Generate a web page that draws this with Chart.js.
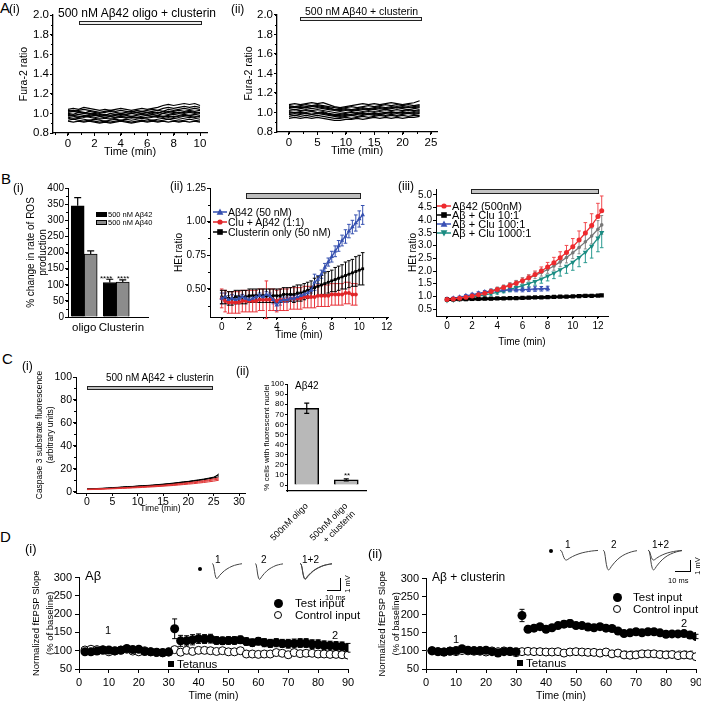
<!DOCTYPE html>
<html><head><meta charset="utf-8">
<script src="https://cdn.jsdelivr.net/npm/chart.js@4.4.1/dist/chart.umd.min.js"></script>
<style>
html,body{margin:0;padding:0;background:#fff;}
body{width:701px;height:702px;overflow:hidden;position:relative;font-family:"Liberation Sans",Arial,sans-serif;color:#000}
.t{position:absolute;white-space:nowrap;}
canvas{position:absolute}
.bx{position:absolute;box-sizing:border-box}
</style></head><body>
<script>
// ================= DATA =================
// A(i) Fura-2 traces (500 nM Aβ42 oligo + clusterin)
const aiTime = [0,0.4,0.8,1.2,1.6,2,2.4,2.8,3.2,3.6,4,4.4,4.8,5.2,5.6,6,6.4,6.8,7.2,7.6,8,8.4,8.8,9.2,9.6,10];
const aiTrace1 = [1.04,1.05,1.04,1.06,1.05,1.04,1.03,1.04,1.03,1.04,1.05,1.04,1.03,1.04,1.05,1.04,1.05,1.06,1.08,1.09,1.08,1.09,1.10,1.09,1.10,1.08];
const aiTrace2 = [1.03,1.02,1.03,1.04,1.03,1.02,1.01,1.02,1.03,1.02,1.03,1.02,1.01,1.03,1.02,1.03,1.04,1.03,1.05,1.06,1.05,1.06,1.07,1.06,1.07,1.06];
const aiTrace3 = [1.01,1.02,1.01,1.00,1.02,1.01,1.00,1.01,1.02,1.01,1.00,1.01,1.02,1.01,1.02,1.01,1.02,1.03,1.02,1.04,1.03,1.04,1.05,1.04,1.05,1.04];
const aiTrace4 = [1.00,0.99,1.01,1.00,0.99,1.00,0.99,0.98,1.00,0.99,1.00,0.99,1.00,1.01,1.00,0.99,1.01,1.00,1.02,1.01,1.02,1.03,1.02,1.03,1.02,1.03];
const aiTrace5 = [0.99,0.98,0.99,0.98,0.97,0.98,0.97,0.98,0.97,0.98,0.99,0.98,0.97,0.98,0.99,0.98,0.99,0.98,1.00,0.99,1.00,1.01,1.00,1.01,1.00,1.01];
const aiTrace6 = [0.97,0.98,0.97,0.96,0.97,0.96,0.95,0.96,0.97,0.96,0.97,0.96,0.97,0.96,0.97,0.98,0.97,0.98,0.97,0.98,0.99,0.98,0.99,0.98,0.99,0.98];
const aiTrace7 = [0.96,0.95,0.96,0.97,0.96,0.95,0.94,0.95,0.94,0.95,0.96,0.95,0.96,0.95,0.96,0.95,0.96,0.97,0.96,0.97,0.96,0.97,0.98,0.97,0.96,0.97];
const aiTrace8 = [0.95,0.94,0.95,0.94,0.93,0.94,0.93,0.92,0.93,0.94,0.93,0.94,0.93,0.94,0.95,0.94,0.93,0.94,0.95,0.94,0.95,0.94,0.95,0.96,0.95,0.94];
const aiTrace9 = [0.93,0.94,0.93,0.92,0.93,0.92,0.91,0.92,0.91,0.92,0.93,0.92,0.91,0.92,0.93,0.92,0.93,0.92,0.93,0.94,0.93,0.92,0.93,0.94,0.93,0.92];
const aiTrace10 = [0.92,0.91,0.92,0.91,0.92,0.91,0.90,0.91,0.90,0.91,0.92,0.91,0.90,0.91,0.92,0.91,0.92,0.91,0.92,0.91,0.92,0.91,0.92,0.91,0.92,0.91];
const aiTrace11 = [1.02,1.03,1.02,1.01,1.00,0.99,0.98,0.99,0.98,0.99,0.98,0.99,1.00,0.99,1.00,1.01,1.00,1.01,1.00,1.02,1.01,1.00,1.01,1.02,1.01,1.00];
const aiTrace12 = [0.98,0.97,0.96,0.97,0.98,0.99,0.97,0.96,0.95,0.96,0.97,0.96,0.95,0.96,0.95,0.96,0.97,0.96,0.97,0.96,0.97,0.96,0.97,0.98,0.97,0.96];
const aiXTicks = [0,2,4,6,8,10];
const aYTicks = [0.8,1.0,1.2,1.4,1.6,1.8,2.0];

// A(ii) Fura-2 traces (500 nM Aβ40 + clusterin)
const aiiTime = [0,1,2,3,4,5,6,7,8,9,10,11,12,13,14,15,16,17,18,19,20,21,22,23];
const aiiTrace1 = [1.08,1.09,1.08,1.09,1.10,1.09,1.10,1.08,1.06,1.05,1.06,1.07,1.08,1.09,1.08,1.09,1.08,1.09,1.10,1.09,1.08,1.09,1.10,1.12];
const aiiTrace2 = [1.07,1.06,1.07,1.08,1.07,1.08,1.07,1.06,1.05,1.04,1.05,1.06,1.05,1.06,1.07,1.06,1.07,1.08,1.07,1.08,1.07,1.08,1.07,1.08];
const aiiTrace3 = [1.05,1.06,1.05,1.06,1.07,1.06,1.05,1.04,1.03,1.03,1.04,1.03,1.04,1.05,1.04,1.05,1.06,1.05,1.06,1.05,1.06,1.05,1.06,1.07];
const aiiTrace4 = [1.04,1.03,1.04,1.05,1.04,1.05,1.04,1.03,1.02,1.01,1.02,1.03,1.02,1.03,1.04,1.03,1.04,1.03,1.04,1.05,1.04,1.03,1.04,1.05];
const aiiTrace5 = [1.02,1.03,1.02,1.03,1.02,1.03,1.02,1.01,1.00,0.99,1.00,1.01,1.00,1.01,1.02,1.01,1.02,1.03,1.02,1.03,1.02,1.03,1.02,1.03];
const aiiTrace6 = [1.01,1.00,1.01,1.02,1.01,1.00,1.01,0.99,0.98,0.98,0.99,1.00,0.99,1.00,1.01,1.00,1.01,1.00,1.01,1.00,1.01,1.02,1.01,1.02];
const aiiTrace7 = [0.99,1.00,0.99,1.00,1.01,1.00,0.99,0.98,0.97,0.96,0.97,0.98,0.99,0.98,0.99,0.98,0.99,1.00,0.99,1.00,0.99,1.00,0.99,1.00];
const aiiTrace8 = [0.98,0.97,0.98,0.99,0.98,0.99,0.98,0.97,0.96,0.95,0.96,0.97,0.96,0.97,0.98,0.97,0.98,0.97,0.98,0.97,0.98,0.99,0.98,0.99];
const aiiTrace9 = [0.96,0.97,0.96,0.97,0.96,0.97,0.96,0.95,0.94,0.94,0.95,0.94,0.95,0.96,0.95,0.96,0.97,0.96,0.97,0.96,0.97,0.96,0.97,0.97];
const aiiTrace10 = [0.94,0.95,0.94,0.95,0.94,0.95,0.94,0.93,0.92,0.92,0.93,0.93,0.94,0.93,0.94,0.95,0.94,0.95,0.94,0.95,0.94,0.95,0.95,0.96];
const aiiTrace11 = [1.06,1.05,1.06,1.05,1.06,1.07,1.06,1.05,1.03,1.02,1.03,1.02,1.03,1.04,1.03,1.04,1.05,1.04,1.05,1.06,1.05,1.06,1.05,1.06];
const aiiTrace12 = [1.00,0.99,1.00,0.99,0.98,0.99,1.00,0.98,0.97,0.97,0.98,0.97,0.98,0.99,0.98,0.99,0.98,0.99,1.00,0.99,1.00,0.99,1.00,1.01];
const aiiXTicks = [0,5,10,15,20,25];

// B(i) ROS production bars
const biCats = ['oligo','Clusterin'];
const biAb42 = [345,107];
const biAb42Err = [25,10];
const biAb40 = [195,108];
const biAb40Err = [10,7];
const biYTicks = [0,50,100,150,200,250,300,350,400];

// B(ii) HEt ratio, 50 nM
const biiTime = [0,0.25,0.5,0.75,1,1.25,1.5,1.75,2,2.25,2.5,2.75,3,3.25,3.5,3.75,4,4.25,4.5,4.75,5,5.25,5.5,5.75,6,6.25,6.5,6.75,7,7.25,7.5,7.75,8,8.25,8.5,8.75,9,9.25,9.5,9.75,10,10.25];
const biiAb42 = [0.43,0.44,0.42,0.43,0.42,0.43,0.44,0.43,0.42,0.43,0.44,0.45,0.44,0.46,0.45,0.42,0.38,0.41,0.42,0.42,0.43,0.43,0.44,0.45,0.46,0.47,0.49,0.55,0.57,0.61,0.66,0.70,0.74,0.78,0.82,0.86,0.89,0.93,0.96,0.99,1.02,1.05];
const biiAb42Err = [0.04,0.03,0.03,0.03,0.03,0.02,0.02,0.02,0.02,0.02,0.02,0.02,0.02,0.02,0.02,0.03,0.04,0.03,0.02,0.02,0.02,0.02,0.02,0.02,0.02,0.02,0.02,0.06,0.03,0.03,0.03,0.03,0.04,0.04,0.04,0.04,0.05,0.05,0.05,0.06,0.06,0.07];
const biiCluAb = [0.43,0.41,0.40,0.40,0.40,0.40,0.41,0.41,0.41,0.41,0.41,0.42,0.42,0.42,0.42,0.42,0.41,0.42,0.42,0.42,0.43,0.43,0.43,0.43,0.44,0.44,0.44,0.44,0.45,0.45,0.45,0.45,0.46,0.46,0.46,0.46,0.47,0.47,0.46,0.46,null,null];
const biiCluAbErr = [0.07,0.08,0.08,0.08,0.08,0.08,0.08,0.08,0.08,0.08,0.08,0.08,0.08,0.14,0.08,0.08,0.08,0.08,0.08,0.08,0.08,0.08,0.08,0.08,0.08,0.08,0.08,0.08,0.08,0.08,0.08,0.08,0.08,0.08,0.08,0.08,0.08,0.08,0.08,0.08,null,null];
const biiCluOnly = [0.44,0.44,0.43,0.43,0.44,0.44,0.44,0.44,0.45,0.45,0.45,0.45,0.45,0.45,0.45,0.45,0.45,0.45,0.46,0.46,0.46,0.46,0.47,0.47,0.48,0.49,0.50,0.51,0.52,0.53,0.54,0.55,0.56,0.57,0.58,0.59,0.60,0.61,0.62,0.63,0.64,0.65];
const biiCluOnlyErr = [0.05,0.05,0.05,0.05,0.05,0.05,0.05,0.05,0.05,0.05,0.05,0.05,0.05,0.05,0.05,0.05,0.05,0.05,0.05,0.05,0.05,0.06,0.06,0.06,0.06,0.06,0.06,0.07,0.07,0.07,0.08,0.08,0.08,0.09,0.09,0.09,0.10,0.10,0.10,0.11,0.11,0.12];
const biiXTicks = [0,2,4,6,8,10,12];
const biiYTicks = [0.5,0.75,1.0,1.25];

// B(iii) HEt ratio, 500 nM
const biiiTime = [0,0.5,1,1.5,2,2.5,3,3.5,4,4.5,5,5.5,6,6.5,7,7.5,8,8.5,9,9.5,10,10.5,11,11.5,12,12.3];
const biiiAb42 = [0.88,0.90,0.93,0.97,1.01,1.06,1.12,1.19,1.27,1.35,1.43,1.52,1.62,1.73,1.86,2.00,2.16,2.33,2.52,2.73,2.96,3.22,3.50,3.80,4.15,4.38];
const biiiAb42Err = [0.04,0.04,0.04,0.05,0.05,0.05,0.06,0.06,0.07,0.08,0.09,0.10,0.11,0.12,0.14,0.16,0.18,0.21,0.24,0.28,0.32,0.36,0.41,0.46,0.52,0.58];
const biiiClu10 = [0.88,0.88,0.89,0.89,0.90,0.90,0.91,0.91,0.92,0.92,0.93,0.93,0.94,0.95,0.96,0.96,0.97,0.98,0.99,0.99,1.00,1.01,1.02,1.02,1.03,1.04];
const biiiClu100 = [0.90,0.93,0.97,1.02,1.07,1.12,1.17,1.21,1.24,1.25,1.26,1.26,1.27,1.28,1.29,1.30,1.31];
const biiiClu100Err = [0.04,0.04,0.04,0.05,0.05,0.06,0.06,0.07,0.08,0.08,0.08,0.08,0.09,0.09,0.09,0.09,0.09];
const biiiClu1000 = [0.84,0.86,0.89,0.93,0.97,1.01,1.06,1.11,1.16,1.22,1.28,1.35,1.42,1.50,1.59,1.69,1.80,1.92,2.05,2.19,2.35,2.53,2.74,2.98,3.30,3.52];
const biiiClu1000Err = [0.03,0.03,0.03,0.04,0.04,0.05,0.05,0.06,0.07,0.08,0.09,0.10,0.11,0.13,0.15,0.17,0.19,0.22,0.25,0.28,0.32,0.36,0.41,0.47,0.54,0.60];
const biiiGrey = [0.88,0.91,0.95,0.99,1.04,1.10,1.16,1.23,1.30,1.37,1.45,1.53,1.62,1.72,1.83,1.94,2.06,2.20,2.36,2.53,2.72,2.93,3.15,3.38,3.65,3.82];
const biiiGreyErr = [0.03,0.03,0.03,0.04,0.04,0.05,0.05,0.06,0.07,0.08,0.09,0.10,0.11,0.12,0.13,0.14,0.15,0.17,0.19,0.21,0.23,0.25,0.28,0.31,0.34,0.37];
const biiiXTicks = [0,2,4,6,8,10,12];
const biiiYTicks = [0.5,1.0,1.5,2.0,2.5,3.0,3.5,4.0,4.5,5.0];

// C(i) caspase-3 substrate fluorescence
const ciTime = [0,1,2,3,4,5,6,7,8,9,10,11,12,13,14,15,16,17,18,19,20,21,22,23,24,25,26];
const ciBlack1 = [2.5,2.6,2.8,3.0,3.3,3.6,3.8,4.2,4.5,4.6,5.0,5.3,5.5,5.8,6.2,6.6,7.0,7.5,8.0,8.6,9.0,9.7,10.3,11.0,11.8,12.7,14.5];
const ciBlack2 = [2.0,2.2,2.4,2.6,2.9,3.1,3.4,3.7,4.0,4.3,4.6,4.9,5.1,5.4,5.8,6.2,6.6,7.0,7.5,8.0,8.6,9.2,9.8,10.5,11.2,12.0,13.0];
const ciBlack3 = [2.2,2.3,2.5,2.8,3.0,3.2,3.5,3.9,4.1,4.4,4.8,5.0,5.3,5.6,6.0,6.3,6.8,7.2,7.8,8.3,8.8,9.4,10.0,10.6,11.5,12.3,15.5];
const ciRed1 = [2.0,2.1,2.2,2.4,2.6,2.8,3.0,3.2,3.4,3.6,3.9,4.1,4.4,4.6,4.9,5.2,5.6,6.0,6.4,6.8,7.3,7.8,8.3,8.9,9.6,10.3,11.0];
const ciRed2 = [1.8,1.9,2.0,2.2,2.4,2.5,2.7,2.9,3.1,3.3,3.5,3.7,4.0,4.2,4.5,4.8,5.1,5.4,5.8,6.2,6.6,7.0,7.5,8.0,8.6,9.2,10.0];
const ciRed3 = [2.2,2.3,2.5,2.6,2.8,3.0,3.2,3.5,3.7,4.0,4.2,4.5,4.8,5.1,5.4,5.7,6.1,6.5,7.0,7.4,7.9,8.4,9.0,9.6,10.3,11.2,12.0];
const ciXTicks = [0,5,10,15,20,25,30];
const ciYTicks = [0,20,40,60,80,100];

// C(ii) % cells with fluorescent nuclei
const ciiCats = ['500nM oligo', ['500nM oligo','+ clusterin']];
const ciiVals = [76,5];
const ciiErr = [5,1];
const ciiYTicks = [0,10,20,30,40,50,60,70,80,90,100];

// D fEPSP slope
const dTime = [2,4,6,8,10,12,14,16,18,20,22,24,26,28,30,32,34,36,38,40,42,44,46,48,50,52,54,56,58,60,62,64,66,68,70,72,74,76,78,80,82,84,86,88,90];
const diTest = [97,97,99,101,102,100,101,106,103,104,98,97,96,95,97,160,127,127,130,133,132,133,128,127,128,128,130,125,122,126,122,120,122,120,119,120,121,121,118,118,115,114,113,112,108];
const diTestErr = [3,3,3,3,3,3,3,3,3,3,3,3,3,3,3,27,15,14,14,13,12,12,10,10,10,10,10,10,10,10,11,11,11,11,12,12,12,12,12,12,12,12,12,12,12];
const diCtrl = [102,104,103,103,97,99,102,104,99,97,100,97,95,94,96,103,96,101,98,101,101,100,98,100,97,97,100,91,91,90,91,91,95,93,89,95,92,93,93,91,91,90,90,89,88];
const diiTest = [100,98,97,99,101,106,102,101,101,102,98,94,98,99,98,198,160,163,167,160,164,170,174,176,170,170,166,164,167,163,162,155,148,150,153,150,153,153,150,146,147,147,148,144,140];
const diiTestErr = [3,3,3,3,3,4,3,3,3,3,3,3,3,3,3,17,6,6,6,6,7,8,9,10,8,7,7,8,8,7,7,7,7,7,8,7,6,6,6,6,6,6,6,6,6];
const diiCtrl = [101,98,97,100,98,101,100,99,99,97,100,98,100,98,95,98,99,98,98,97,97,98,94,97,98,97,96,96,94,97,92,94,89,88,89,92,92,92,90,89,90,87,89,88,84];
const dXTicks = [0,10,20,30,40,50,60,70,80,90];
const dYTicks = [50,100,150,200,250,300];
const dBaseline = 100;

// D inset fEPSP waveforms (mV vs ms)
const wTime = [0,1,2,3,4,5,6,8,10,12,14,16,18,20,22,24];
const diWave1 = [0,-0.1,-0.6,-1.05,-1.15,-1.05,-0.92,-0.72,-0.55,-0.42,-0.31,-0.22,-0.15,-0.10,-0.06,-0.03];
const diWave2 = [0,-0.1,-0.65,-1.1,-1.2,-1.1,-0.97,-0.76,-0.58,-0.44,-0.33,-0.24,-0.16,-0.11,-0.07,-0.04];
const diiWave1 = [0,-0.08,-0.45,-0.75,-0.82,-0.76,-0.67,-0.52,-0.40,-0.30,-0.22,-0.16,-0.11,-0.07,-0.04,-0.02];
const diiWave2 = [0,-0.12,-0.9,-1.5,-1.65,-1.52,-1.34,-1.05,-0.80,-0.60,-0.44,-0.32,-0.22,-0.14,-0.08,-0.04];

// ================= PLUGINS =================
function drawErr(chart, top) {
  const ctx = chart.ctx;
  chart.data.datasets.forEach((ds, di) => {
    if (!ds.err || !!ds.errOnTop !== top) return;
    const meta = chart.getDatasetMeta(di);
    const ys = chart.scales[meta.yAxisID];
    ctx.save();
    ctx.strokeStyle = ds.errColor || ds.borderColor;
    ctx.lineWidth = ds.errWidth || 1;
    const cap = ds.errCap == null ? 2 : ds.errCap;
    const dir = ds.errDir || 'both';
    meta.data.forEach((el, i) => {
      const raw = ds.data[i];
      const v = (raw !== null && typeof raw === 'object') ? raw.y : raw;
      const e = ds.err[i];
      if (v == null || e == null) return;
      const x = el.x;
      const yT = ys.getPixelForValue(v + (dir !== 'down' ? e : 0));
      const yB = ys.getPixelForValue(v - (dir !== 'up' ? e : 0));
      ctx.beginPath();
      ctx.moveTo(x, yT); ctx.lineTo(x, yB);
      if (dir !== 'down') { ctx.moveTo(x - cap, yT); ctx.lineTo(x + cap, yT); }
      if (dir !== 'up') { ctx.moveTo(x - cap, yB); ctx.lineTo(x + cap, yB); }
      ctx.stroke();
    });
    ctx.restore();
  });
}
const errPlugin = { id: 'errbars',
  beforeDatasetsDraw(chart) { drawErr(chart, false); },
  afterDatasetsDraw(chart) { drawErr(chart, true); } };

const minorPlugin = { id: 'minor',
  afterDraw(chart, args, opts) {
    const ctx = chart.ctx;
    ['x', 'y'].forEach(k => {
      const step = opts && opts[k];
      if (!step) return;
      const s = chart.scales[k];
      const len = opts.len || 2;
      ctx.save(); ctx.strokeStyle = '#000'; ctx.lineWidth = 1; ctx.beginPath();
      const n0 = Math.ceil(s.min / step - 1e-9), n1 = Math.floor(s.max / step + 1e-9);
      for (let n = n0; n <= n1; n++) {
        const p = Math.round(s.getPixelForValue(n * step)) + 0.5;
        if (k === 'x') { const y0 = chart.chartArea.bottom; ctx.moveTo(p, y0); ctx.lineTo(p, y0 + len); }
        else { const x0 = chart.chartArea.left; ctx.moveTo(x0, p); ctx.lineTo(x0 - len, p); }
      }
      ctx.stroke(); ctx.restore();
    });
  } };

const refPlugin = { id: 'refline',
  beforeDatasetsDraw(chart, args, opts) {
    if (!opts || opts.value == null) return;
    const ctx = chart.ctx, y = chart.scales.y.getPixelForValue(opts.value);
    ctx.save(); ctx.strokeStyle = opts.color || '#555'; ctx.lineWidth = 1; ctx.setLineDash(opts.dash || [3, 3]);
    ctx.beginPath(); ctx.moveTo(chart.chartArea.left, y); ctx.lineTo(chart.chartArea.right, y); ctx.stroke();
    ctx.restore();
  } };

Chart.register(errPlugin, minorPlugin, refPlugin);
Chart.defaults.font.family = '"Liberation Sans", Arial, sans-serif';
Chart.defaults.color = '#000';

// ================= HELPERS =================
function xy(t, v) { return v.map((y, i) => ({ x: t[i], y: y })); }

function axis(min, max, ticks, o) {
  o = o || {};
  return {
    type: 'linear', min: min, max: max, offset: false,
    afterBuildTicks: s => { s.ticks = ticks.map(v => ({ value: v })); },
    ticks: { autoSkip: false, maxRotation: 0, minRotation: 0, padding: o.pad == null ? 1 : o.pad,
      font: { size: o.fs || 11 }, color: '#000', callback: o.fmt || (v => String(v)) },
    grid: { display: !o.noTicks, offset: false, drawOnChartArea: false, drawTicks: true, tickLength: o.tl == null ? 3 : o.tl, color: '#000', lineWidth: 1 },
    border: { display: true, color: '#000', width: o.bw || 1 },
    title: o.title ? { display: true, text: o.title, padding: 0, color: '#000', font: { size: o.tfs || 11, lineHeight: o.tlh || 1.2 } } : { display: false }
  };
}

function place(area, yW, xH, pt, pr, config) {
  const L = area[0], T = area[1], R = area[2], B = area[3];
  const cv = document.createElement('canvas');
  const w = Math.round(R - L + yW + pr), h = Math.round(B - T + pt + xH);
  cv.width = w; cv.height = h;
  cv.style.left = (L - yW) + 'px'; cv.style.top = (T - pt) + 'px';
  cv.style.width = w + 'px'; cv.style.height = h + 'px';
  document.body.appendChild(cv);
  const o = config.options;
  o.responsive = false; o.animation = false; o.devicePixelRatio = 1;
  o.layout = { padding: { top: pt, right: pr, left: 0, bottom: 0 } };
  o.plugins = Object.assign({ legend: { display: false }, tooltip: { enabled: false } }, o.plugins || {});
  if (o.scales.x) o.scales.x.afterFit = s => { s.height = xH; };
  if (o.scales.y) o.scales.y.afterFit = s => { s.width = yW; };
  return new Chart(cv, config);
}

function inset(L, T, W, H, ymin, ymax, waves) {
  const cv = document.createElement('canvas');
  cv.width = W; cv.height = H;
  cv.style.left = L + 'px'; cv.style.top = T + 'px'; cv.style.width = W + 'px'; cv.style.height = H + 'px';
  document.body.appendChild(cv);
  new Chart(cv, { type: 'line',
    data: { datasets: waves.map(wv => ({ data: xy(wTime, wv), borderColor: '#444', borderWidth: 1, pointRadius: 0, tension: 0.35, clip: false })) },
    options: { responsive: false, animation: false, devicePixelRatio: 1, layout: { padding: 0 },
      plugins: { legend: { display: false }, tooltip: { enabled: false } },
      scales: { x: { type: 'linear', display: false, min: 0, max: 24 }, y: { type: 'linear', display: false, min: ymin, max: ymax } } } });
}

function T(str, left, cy, size, css) {
  const d = document.createElement('div');
  d.className = 't';
  d.textContent = str;
  const lh = Math.round(size * 1.2);
  d.style.left = left + 'px'; d.style.top = (cy - lh / 2) + 'px';
  d.style.fontSize = size + 'px'; d.style.lineHeight = lh + 'px';
  if (css) d.style.cssText += css;
  document.body.appendChild(d);
  return d;
}
function Tc(str, cx, cy, size, rot) {
  const d = T(str, cx, cy, size);
  d.style.top = cy + 'px';
  d.style.transform = 'translate(-50%,-50%)' + (rot ? ' rotate(' + rot + 'deg)' : '');
  return d;
}
function box(l, t, w, h, css) {
  const d = document.createElement('div');
  d.className = 'bx';
  d.style.cssText += `left:${l}px;top:${t}px;width:${w}px;height:${h}px;` + (css || '');
  document.body.appendChild(d);
  return d;
}
function legendRow(x, cy, color, shape, label, fs) {
  let m = '';
  if (shape === 'circle') m = `<circle cx="7" cy="4" r="2.6" fill="${color}"/>`;
  if (shape === 'rect') m = `<rect x="4.2" y="1.2" width="5.6" height="5.6" fill="${color}"/>`;
  if (shape === 'tri') m = `<polygon points="7,0.6 10.4,6.8 3.6,6.8" fill="${color}"/>`;
  if (shape === 'dtri') m = `<polygon points="3.6,1.2 10.4,1.2 7,7.4" fill="${color}"/>`;
  const s = document.createElement('div');
  s.className = 't';
  s.style.left = x + 'px'; s.style.top = (cy - 4) + 'px';
  s.innerHTML = `<svg width="14" height="8" style="display:block"><line x1="0" y1="4" x2="14" y2="4" stroke="${color}" stroke-width="1.5"/>${m}</svg>`;
  document.body.appendChild(s);
  T(label, x + 15, cy, fs);
}

// ================= A(i) =================
const aiTraces = [aiTrace1, aiTrace2, aiTrace3, aiTrace4, aiTrace5, aiTrace6, aiTrace7, aiTrace8, aiTrace9, aiTrace10, aiTrace11, aiTrace12];
place([53, 15, 207, 133], 35, 26, 8, 10, { type: 'line',
  data: { datasets: aiTraces.map(tr => ({ data: xy(aiTime, tr), borderColor: '#000', borderWidth: 1.2, pointRadius: 0 })) },
  options: { scales: {
    x: axis(-1.136, 10.53, aiXTicks, { fs: 11.5, title: 'Time (min)', tfs: 11, bw: 1.3 }),
    y: axis(0.8, 2.0, aYTicks, { fs: 11.5, fmt: v => v.toFixed(1), title: 'Fura-2 ratio', tfs: 10.5, bw: 1.3 }) },
    plugins: { minor: { x: 1, y: 0.1 } } } });

// ================= A(ii) =================
const aiiTraces = [aiiTrace1, aiiTrace2, aiiTrace3, aiiTrace4, aiiTrace5, aiiTrace6, aiiTrace7, aiiTrace8, aiiTrace9, aiiTrace10, aiiTrace11, aiiTrace12];
place([277, 14, 437, 132], 34, 26, 7, 10, { type: 'line',
  data: { datasets: aiiTraces.map(tr => ({ data: xy(aiiTime, tr), borderColor: '#000', borderWidth: 1.2, pointRadius: 0 })) },
  options: { scales: {
    x: axis(-2.11, 26.06, aiiXTicks, { fs: 11.5, title: 'Time (min)', tfs: 11, bw: 1.3 }),
    y: axis(0.8, 2.0, aYTicks, { fs: 11.5, fmt: v => v.toFixed(1), title: 'Fura-2 ratio', tfs: 10.5, bw: 1.3 }) },
    plugins: { minor: { x: 2.5, y: 0.1 } } } });

// ================= B(i) =================
const biX = biCats.map((c, i) => i + 1);
const biXAxis = axis(0.495, 2.99, biX, { fs: 11.5, noTicks: true, pad: 1, fmt: v => biCats[v - 1] });
biXAxis.afterBuildTicks = s => { s.ticks = biX.map((v, i) => ({ value: v + 0.16 * i })); };
biXAxis.ticks.callback = (v, i) => biCats[i];
place([68, 188, 148, 317], 43, 16, 8, 4, { type: 'bar',
  data: { datasets: [
    { data: xy(biX, biAb42), backgroundColor: '#000', borderColor: '#000', borderWidth: 1, barThickness: 13,
      err: biAb42Err, errDir: 'up', errColor: '#000', errCap: 3.5, errWidth: 1.2 },
    { data: xy(biX, biAb40), backgroundColor: '#8c8c8c', borderColor: '#000', borderWidth: 1, barThickness: 13,
      err: biAb40Err, errDir: 'up', errColor: '#000', errCap: 3.5, errWidth: 1.2 } ] },
  options: { scales: {
    x: biXAxis,
    y: axis(0, 400, biYTicks, { fs: 10, title: ['% change in rate of ROS', 'production'], tfs: 10 }) },
    plugins: { minor: { y: 25 } } } });

// ================= B(ii) =================
place([210, 188, 388, 317], 37, 24, 8, 8, { type: 'line',
  data: { datasets: [
    { data: xy(biiTime, biiAb42), borderColor: '#3550b0', backgroundColor: '#3550b0', borderWidth: 1.3, pointStyle: 'triangle', pointRadius: 2.6, pointBorderWidth: 0,
      err: biiAb42Err, errColor: '#3550b0', errCap: 1.8 },
    { data: xy(biiTime, biiCluAb), borderColor: '#e02428', backgroundColor: '#e02428', borderWidth: 1.3, pointStyle: 'circle', pointRadius: 2, pointBorderWidth: 0,
      err: biiCluAbErr, errColor: '#e8343a', errCap: 1.8 },
    { data: xy(biiTime, biiCluOnly), borderColor: '#000', backgroundColor: '#000', borderWidth: 1.3, pointStyle: 'rect', pointRadius: 2, pointBorderWidth: 0,
      err: biiCluOnlyErr, errColor: '#000', errCap: 1.8 } ] },
  options: { scales: {
    x: axis(-0.85, 12.09, biiXTicks, { fs: 10, title: 'Time (min)', tfs: 10 }),
    y: axis(0.292, 1.25, biiYTicks, { fs: 10, fmt: v => v.toFixed(2), title: 'HEt ratio', tfs: 10 }) },
    plugins: { minor: { x: 1, y: 0.125 } } } });

// ================= B(iii) =================
place([436, 189, 608, 316], 29, 32, 8, 8, { type: 'line',
  data: { datasets: [
    { data: xy(biiiTime, biiiAb42), borderColor: '#ee2a2e', backgroundColor: '#ee2a2e', borderWidth: 1.3, pointStyle: 'circle', pointRadius: 2.5, pointBorderWidth: 0,
      err: biiiAb42Err, errDir: 'up', errColor: '#f04a4e', errCap: 1.8 },
    { data: xy(biiiTime, biiiClu10), borderColor: '#000', backgroundColor: '#000', borderWidth: 3, pointStyle: 'rect', pointRadius: 3, pointBorderWidth: 0 },
    { data: xy(biiiTime, biiiClu100), borderColor: '#3a50b4', backgroundColor: '#3a50b4', borderWidth: 1.3, pointStyle: 'triangle', pointRadius: 3, pointBorderWidth: 0,
      err: biiiClu100Err, errColor: '#3a50b4', errCap: 1.8 },
    { data: xy(biiiTime, biiiClu1000), borderColor: '#1b8c82', backgroundColor: '#1b8c82', borderWidth: 1.3, pointStyle: 'triangle', pointRotation: 180, pointRadius: 3, pointBorderWidth: 0,
      err: biiiClu1000Err, errDir: 'down', errColor: '#2a9a90', errCap: 1.8 },
    { data: xy(biiiTime, biiiGrey), borderColor: '#777', backgroundColor: '#777', borderWidth: 1.3, pointStyle: 'circle', pointRadius: 1.8, pointBorderWidth: 0,
      err: biiiGreyErr, errDir: 'both', errColor: '#8a8a8a', errCap: 1.5 } ] },
  options: { scales: {
    x: axis(-0.874, 12.8, biiiXTicks, { fs: 10, title: 'Time (min)', tfs: 10 }),
    y: axis(0.226, 5.235, biiiYTicks, { fs: 10, fmt: v => v.toFixed(1), title: 'HEt ratio', tfs: 10 }) },
    plugins: { minor: { x: 1 } } } });

// ================= C(i) =================
const ciTraces = [[ciRed1, '#e03030'], [ciRed2, '#e03030'], [ciRed3, '#e03030'], [ciBlack1, '#000'], [ciBlack2, '#000'], [ciBlack3, '#000']];
place([76, 377, 245, 493], 41, 21, 8, 6, { type: 'line',
  data: { datasets: ciTraces.map(p => ({ data: xy(ciTime, p[0]), borderColor: p[1], borderWidth: 1, pointRadius: 0 })) },
  options: { scales: {
    x: axis(-2.17, 31.18, ciXTicks, { fs: 10.5, pad: 0, title: 'Time (min)', tfs: 8.5 }),
    y: axis(-1.13, 100, ciYTicks, { fs: 10.5, title: ['Caspase 3 substrate fluorescence', '(arbitrary units)'], tfs: 8.5 }) },
    plugins: { minor: { y: 10 } } } });

// ================= C(ii) =================
place([287, 384, 366, 491], 25, 60, 8, 12, { type: 'bar',
  data: { labels: ciiCats, datasets: [
    { data: ciiVals, backgroundColor: '#b8b8b8', borderColor: '#000', borderWidth: 1.5, barThickness: 24,
      err: ciiErr, errOnTop: true, errColor: '#000', errCap: 2.5, errWidth: 1.2 } ] },
  options: { scales: {
    x: { type: 'category', offset: true, grid: { display: false }, border: { display: true, color: '#000', width: 1.2 },
      ticks: { autoSkip: false, minRotation: 45, maxRotation: 45, font: { size: 9 }, padding: 2, color: '#000' } },
    y: axis(-5.94, 100, ciiYTicks, { fs: 8, tl: 2, title: '% cells with fluorescent nuclei', tfs: 8 }) } } });

// ================= D(i) =================
place([79, 576, 348, 669], 49, 33, 8, 10, { type: 'line',
  data: { datasets: [
    { data: xy(dTime, diTest), showLine: false, pointStyle: 'circle', pointRadius: 4.5, backgroundColor: '#000', borderColor: '#000', pointBorderWidth: 0,
      err: diTestErr, errColor: '#000', errCap: 2.5 },
    { data: xy(dTime, diCtrl), showLine: false, pointStyle: 'circle', pointRadius: 4, backgroundColor: '#fff', borderColor: '#000', pointBorderWidth: 1 } ] },
  options: { scales: {
    x: axis(0, 90, dXTicks, { fs: 11, tl: 4, pad: 3, title: 'Time (min)', tfs: 10.5 }),
    y: axis(50, 300, dYTicks, { fs: 11, tl: 4, pad: 3, title: ['Normalized fEPSP Slope', '(% of baseline)'], tfs: 9.5, tlh: 1.4 }) } } });

// ================= D(ii) =================
place([426, 577, 696, 669], 50, 33, 8, 10, { type: 'line',
  data: { datasets: [
    { data: xy(dTime, diiTest), showLine: false, pointStyle: 'circle', pointRadius: 4.5, backgroundColor: '#000', borderColor: '#000', pointBorderWidth: 0,
      err: diiTestErr, errColor: '#000', errCap: 2.5 },
    { data: xy(dTime, diiCtrl), showLine: false, pointStyle: 'circle', pointRadius: 4, backgroundColor: '#fff', borderColor: '#000', pointBorderWidth: 1 } ] },
  options: { scales: {
    x: axis(0, 90, dXTicks, { fs: 11, tl: 4, pad: 3, title: 'Time (min)', tfs: 10.5 }),
    y: axis(50, 300, dYTicks, { fs: 11, tl: 4, pad: 3, title: ['Normalized fEPSP Slope', '(% of baseline)'], tfs: 9.5, tlh: 1.4 }) },
    plugins: { refline: { value: dBaseline, dash: [3, 3], color: '#666' } } } });

// insets
inset(212, 562, 30, 20, -1.4, 0.1, [diWave1]);
inset(255, 562, 28, 20, -1.4, 0.1, [diWave2]);
inset(300, 562, 32, 20, -1.4, 0.1, [diWave1, diWave2]);
inset(560, 549, 38, 24, -1.9, 0.1, [diiWave1]);
inset(603, 549, 34, 24, -1.9, 0.1, [diiWave2]);
inset(648, 549, 34, 24, -1.9, 0.1, [diiWave1, diiWave2]);

// ================= ANNOTATIONS =================
// A
T('A', 0, 8, 15); T('(i)', 9, 9, 12);
T('500 nM Aβ42 oligo + clusterin', 58, 13, 12);
box(79, 21, 123, 4, 'border:1px solid #222;background:#eee');
T('(ii)', 231, 9, 12);
T('500 nM Aβ40 + clusterin', 305, 11, 10.5);
box(300, 17, 122, 4, 'border:1px solid #222;background:#eee');
// B
T('B', 1, 179, 15); T('(i)', 13, 188, 12);
box(96, 212, 11, 5, 'background:#000');
T('500 nM Aβ42', 108, 214.5, 7.5);
box(96, 220, 11, 5, 'background:#8c8c8c;border:1px solid #000');
T('500 nM Aβ40', 108, 222.5, 7.5);
T('****', 100, 279, 8); T('****', 117, 279, 8);
T('(ii)', 170, 186, 12);
box(246, 193, 115, 6, 'background:#bdbdbd;border:1px solid #222');
legendRow(213, 212, '#3550b0', 'tri', 'Aβ42 (50 nM)', 10.5);
legendRow(213, 222, '#e02428', 'circle', 'Clu + Aβ42 (1:1)', 10.5);
legendRow(213, 232, '#000', 'rect', 'Clusterin only (50 nM)', 10.5);
T('(iii)', 398, 186, 12);
box(471, 189, 128, 5, 'background:#c4c4c4;border:1px solid #222');
legendRow(437, 206, '#ee2a2e', 'circle', 'Aβ42 (500nM)', 11);
legendRow(437, 215, '#000', 'rect', 'Aβ + Clu 10:1', 11);
legendRow(437, 224, '#3a50b4', 'tri', 'Aβ + Clu 100:1', 11);
legendRow(437, 233, '#1b8c82', 'dtri', 'Aβ + Clu 1000:1', 11);
// C
T('C', 2, 359, 15); T('(i)', 22, 366, 12);
T('500 nM Aβ42 + clusterin', 106, 378, 10);
box(87, 386, 126, 4, 'background:#bdbdbd;border:1px solid #222');
T('(ii)', 236, 371, 12);
T('Aβ42', 295, 386, 10);
T('**', 344, 476, 8);
// D
T('D', 0, 537, 15); T('(i)', 25, 549, 13);
T('Aβ', 85, 576, 13);
box(198, 567, 4, 4, 'background:#000;border-radius:50%');
T('1', 215, 560, 10); T('2', 261, 560, 10); T('1+2', 302, 560, 10);
box(340, 578, 1, 13, 'background:#000'); box(327, 590, 14, 1, 'background:#000');
Tc('1 mV', 347, 584, 7.5, -90);
T('10 ms', 325, 597, 7.5);
box(273.5, 598.5, 9, 9, 'background:#000;border-radius:50%');
T('Test input', 295, 603, 11.5);
box(274, 611, 8, 8, 'background:#fff;border:1px solid #000;border-radius:50%');
T('Control input', 295, 615, 11.5);
T('1', 105, 630, 11); T('2', 332, 635, 11);
box(168, 661, 6, 6, 'background:#000'); T('Tetanus', 177, 664, 11.5);

T('(ii)', 368, 554, 13);
T('Aβ + clusterin', 432, 577, 12);
box(549, 549, 4, 4, 'background:#000;border-radius:50%');
T('1', 565, 545, 10); T('2', 611, 545, 10); T('1+2', 652, 545, 10);
box(690, 560, 1, 12, 'background:#000'); box(675, 571, 16, 1, 'background:#000');
Tc('1 mV', 697, 566, 7.5, -90);
T('10 ms', 668, 580, 7.5);
box(612.5, 592.5, 9, 9, 'background:#000;border-radius:50%');
T('Test input', 633, 597, 11.5);
box(613, 605, 8, 8, 'background:#fff;border:1px solid #000;border-radius:50%');
T('Control input', 633, 609, 11.5);
T('1', 453, 639, 11); T('2', 681, 623, 11);
box(517, 660, 6, 6, 'background:#000'); T('Tetanus', 526, 663, 11.5);
</script>
</body></html>
